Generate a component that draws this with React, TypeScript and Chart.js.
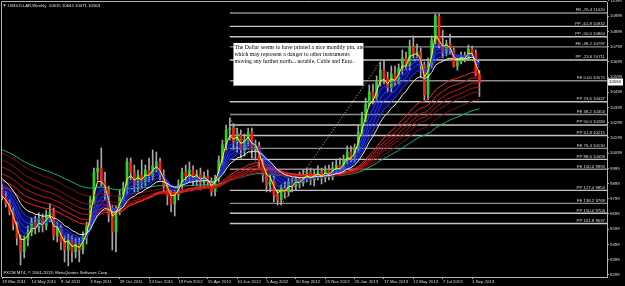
import React, { useEffect, useRef } from 'react';
import { Chart, registerables } from 'chart.js';

Chart.register(...registerables);

// ---- data ----
const dateLabels = ['19 Mar 2011', '14 May 2011', '9 Jul 2011', '3 Sep 2011', '29 Oct 2011', '24 Dec 2011', '19 Feb 2012', '15 Apr 2012', '10 Jun 2012', '5 Aug 2012', '30 Sep 2012', '25 Nov 2012', '20 Jan 2013', '17 Mar 2013', '12 May 2013', '7 Jul 2013', '1 Sep 2013'];
const dateTickBars = [0, 8, 16, 24, 32, 40, 48, 56, 64, 72, 80, 88, 96, 104, 112, 120, 128];
const priceTicks = [9299, 9399, 9499, 9599, 9699, 9799, 9899, 9999, 10099, 10199, 10299, 10399, 10499, 10599, 10699, 10799, 10899, 10999, 11099];

const opens = [9857, 9811, 9765, 9712, 9627, 9542, 9450, 9528, 9581, 9647, 9607, 9673, 9620, 9693, 9712, 9555, 9607, 9515, 9463, 9528, 9450, 9502, 9463, 9555, 9620, 9791, 9975, 10001, 9909, 9857, 9693, 9581, 9725, 9824, 9870, 10041, 9975, 9890, 9955, 9909, 9988, 9949, 10015, 10041, 9955, 9883, 9817, 9765, 9824, 9890, 9975, 9949, 9988, 9923, 9962, 9903, 9949, 9909, 9844, 9936, 10054, 10152, 10251, 10264, 10172, 10218, 10120, 10185, 10238, 10120, 10146, 10041, 9955, 9890, 9923, 9824, 9791, 9870, 9844, 9909, 9883, 9936, 9903, 9949, 9975, 9923, 9962, 9975, 9936, 9988, 9949, 10001, 10021, 9988, 10054, 10106, 10067, 10133, 10238, 10330, 10422, 10501, 10461, 10566, 10645, 10593, 10527, 10619, 10566, 10658, 10724, 10671, 10796, 10757, 10763, 10678, 10481, 10678, 10842, 11000, 10809, 10763, 10816, 10777, 10671, 10698, 10737, 10717, 10783, 10757, 10615];
const highs = [9890, 9844, 9791, 9739, 9647, 9561, 9555, 9620, 9673, 9686, 9706, 9699, 9725, 9765, 9739, 9647, 9627, 9555, 9568, 9555, 9542, 9542, 9581, 9647, 9817, 10001, 10054, 10133, 9975, 9883, 9758, 9758, 9857, 9909, 10067, 10067, 10021, 9988, 10054, 10021, 10067, 10120, 10106, 10067, 9988, 9909, 9857, 9857, 9923, 10001, 10021, 10041, 10015, 9988, 10001, 9975, 9988, 9936, 9955, 10080, 10185, 10284, 10330, 10290, 10264, 10251, 10225, 10264, 10264, 10185, 10172, 10067, 9988, 9955, 9949, 9857, 9890, 9909, 9936, 9936, 9962, 9975, 9988, 10001, 10001, 9988, 10015, 10001, 10015, 10021, 10041, 10054, 10067, 10087, 10146, 10146, 10159, 10284, 10369, 10461, 10547, 10553, 10606, 10698, 10711, 10632, 10671, 10671, 10685, 10777, 10763, 10842, 10869, 10816, 10790, 10698, 10724, 10869, 11013, 11013, 10908, 10842, 10882, 10790, 10724, 10763, 10763, 10809, 10803, 10777, 10642];
const lows = [9791, 9745, 9693, 9594, 9496, 9364, 9410, 9489, 9555, 9568, 9581, 9581, 9594, 9647, 9528, 9515, 9463, 9384, 9358, 9384, 9410, 9384, 9436, 9502, 9594, 9765, 9923, 9883, 9791, 9647, 9463, 9450, 9693, 9791, 9824, 9923, 9844, 9844, 9870, 9883, 9909, 9923, 9975, 9923, 9844, 9758, 9712, 9686, 9791, 9857, 9909, 9909, 9883, 9883, 9857, 9870, 9883, 9817, 9817, 9909, 10021, 10120, 10185, 10120, 10106, 10067, 10080, 10146, 10067, 10054, 10001, 9909, 9844, 9844, 9778, 9758, 9758, 9804, 9817, 9844, 9857, 9870, 9883, 9909, 9890, 9883, 9923, 9896, 9909, 9923, 9923, 9962, 9955, 9962, 10028, 10041, 10041, 10106, 10225, 10304, 10409, 10422, 10435, 10540, 10553, 10501, 10501, 10540, 10553, 10619, 10645, 10645, 10724, 10724, 10593, 10448, 10448, 10658, 10816, 10790, 10724, 10737, 10750, 10665, 10645, 10685, 10698, 10711, 10737, 10606, 10471];
const closes = [9811, 9765, 9712, 9627, 9542, 9450, 9528, 9581, 9647, 9607, 9673, 9620, 9693, 9712, 9555, 9607, 9515, 9463, 9528, 9450, 9502, 9463, 9555, 9620, 9791, 9975, 10001, 9909, 9857, 9693, 9581, 9725, 9824, 9870, 10041, 9975, 9890, 9955, 9909, 9988, 9949, 10015, 10041, 9955, 9883, 9817, 9765, 9824, 9890, 9975, 9949, 9988, 9923, 9962, 9903, 9949, 9909, 9844, 9936, 10054, 10152, 10251, 10264, 10172, 10218, 10120, 10185, 10238, 10120, 10146, 10041, 9955, 9890, 9923, 9824, 9791, 9870, 9844, 9909, 9883, 9936, 9903, 9949, 9975, 9923, 9962, 9975, 9936, 9988, 9949, 10001, 10021, 9988, 10054, 10106, 10067, 10133, 10238, 10330, 10422, 10501, 10461, 10566, 10645, 10593, 10527, 10619, 10566, 10658, 10724, 10671, 10796, 10757, 10763, 10678, 10481, 10678, 10842, 11000, 10809, 10763, 10816, 10777, 10671, 10698, 10737, 10717, 10783, 10757, 10615, 10563];

// moving-average indicator settings (periods) and their values at the first bar
const yellowPeriod = 3;
const yellowSeed = 9817;
const bluePeriods = [5, 7, 9, 12];
const blueSeeds = [9840, 9860, 9880, 9905];
const whitePeriod = 15;
const whiteSeed = 9930;
const redPeriods = [30, 35, 40, 45, 50, 60];
const redSeeds = [9877, 9916, 9962, 10008, 10054, 10100];
const greenPeriod = 75;
const greenSeed = 10120;

const fibNames = ['FE -76.4', 'PP -61.8', 'PP -50.0', 'FE -38.2', 'PP -23.6', 'FE 0.00', 'PP 23.6', 'FE 38.2', 'PP 50.0', 'PP 61.8', 'FE 76.4', 'PP 88.6', 'FE 100.0', 'PP 127.4', 'FE 138.2', 'PP 150.0', 'PP 161.8'];
const fibValues = [11020, 10932, 10864, 10797, 10711, 10575, 10437, 10353, 10284, 10215, 10130, 10058, 9993, 9854, 9769, 9704, 9637];
const fibStartBar = 62;

const zigzagBars = [62, 76, 103];
const zigzagValues = [10330, 9758, 10698];

const headerText = 'USDOLLAR,Weekly  10615 10642 10471 10563';
const footerText = 'FXCM MT4, \u00A9 2001-2013, MetaQuotes Software Corp.';
const noteLines = ['The Dollar seems to have printed a nice monthly pin, and', 'which may represent a danger to other instruments', 'moving any further north... notable, Cable and Euro.'];
const noteBar = 63;
const noteValue = 10823;
const lastPrice = 10563;

const xMin = -0.05;
const xMax = 164.75;
const yMin = 9285;
const yMax = 11092;

const SANS = '"Liberation Sans", Arial, sans-serif';
const SERIF = '"Liberation Serif", "Times New Roman", serif';

function ema(period: number, seed: number) {
  const a = 2 / (period + 1);
  const out: { x: number; y: number }[] = [];
  let v = seed;
  for (let i = 0; i < closes.length; i++) {
    if (i > 0) v = v + a * (closes[i] - v);
    out.push({ x: i, y: v });
  }
  return out;
}

export default function App() {
  const ref = useRef<HTMLCanvasElement | null>(null);

  useEffect(() => {
    document.body.style.margin = '0';
    document.body.style.background = '#000';
    const canvas = ref.current;
    if (!canvas) return;

    const datasets: any[] = [];
    const lineDs = (data: any, color: string, order: number, extra: any = {}) => ({
      type: 'line',
      data,
      borderColor: color,
      borderWidth: 1,
      pointRadius: 0,
      tension: 0,
      fill: false,
      order,
      ...extra,
    });

    // fib lines
    fibValues.forEach((v, k) => {
      const isFE = fibNames[k].startsWith('FE');
      datasets.push(lineDs([{ x: fibStartBar, y: v }, { x: xMax, y: v }], isFE ? '#8e8e8e' : '#c4c4c4', 40, { borderWidth: 1.4 }));
    });
    // zigzag dotted
    datasets.push(lineDs(zigzagBars.map((b, k) => ({ x: b, y: zigzagValues[k] })), '#cfcfcf', 35, { borderDash: [1, 2] }));

    // candles
    datasets.push({
      type: 'bar',
      data: closes.map((_, i) => ({ x: i, y: [lows[i], highs[i]] })),
      backgroundColor: '#a8a8a8',
      barThickness: 1,
      grouped: false,
      order: 30,
    });
    datasets.push({
      type: 'bar',
      data: closes.map((c, i) => ({ x: i, y: [opens[i], c] })),
      backgroundColor: closes.map((c, i) => (c >= opens[i] ? '#2ad42a' : '#ff1c1c')),
      barThickness: 2,
      minBarLength: 1,
      grouped: false,
      order: 29,
    });

    // green
    datasets.push(lineDs(ema(greenPeriod, greenSeed), '#16b07a', 6));
    // reds
    const redColors = ['#ff2424', '#e41c1c', '#c81616', '#b01212', '#9a0f0f', '#840c0c'];
    redPeriods.forEach((p, k) => datasets.push(lineDs(ema(p, redSeeds[k]), redColors[k], 5)));
    // yellow
    const yellowIdx = datasets.length;
    datasets.push(lineDs(ema(yellowPeriod, yellowSeed), '#ffff00', 1));
    // blues
    bluePeriods.forEach((p, k) => {
      const last = k === bluePeriods.length - 1;
      datasets.push(
        lineDs(ema(p, blueSeeds[k]), '#1f3cf0', 3, last ? { fill: { target: yellowIdx }, backgroundColor: 'rgba(8,10,110,0.95)' } : {})
      );
    });
    // white
    datasets.push(lineDs(ema(whitePeriod, whiteSeed), '#e8e8e8', 2));

    const decor = {
      id: 'decor',
      beforeDraw(chart: any) {
        const c = chart.ctx;
        c.save();
        c.fillStyle = '#000';
        c.fillRect(0, 0, chart.width, chart.height);
        c.restore();
      },
      afterDatasetsDraw(chart: any) {
        const c = chart.ctx;
        const xs = chart.scales.x;
        const ys = chart.scales.y;
        const area = chart.chartArea;
        c.save();
        // fib labels
        c.font = `4.3px ${SANS}`;
        c.fillStyle = '#dcdcdc';
        c.textAlign = 'right';
        c.textBaseline = 'alphabetic';
        fibValues.forEach((v, k) => {
          const y = ys.getPixelForValue(v);
          c.fillText(`${fibNames[k]} ${v}`, area.right - 2, y - 1.6);
        });
        // note box
        const bx = xs.getPixelForValue(noteBar);
        const by = ys.getPixelForValue(noteValue);
        c.fillStyle = '#ffffff';
        c.fillRect(bx, by, 130, 43);
        c.fillStyle = '#9a9a9a';
        c.fillRect(bx, by + 42, 130, 1);
        c.fillStyle = '#000';
        c.textAlign = 'left';
        c.textBaseline = 'middle';
        c.font = `5.7px ${SERIF}`;
        noteLines.forEach((t, k) => c.fillText(t, bx + 1, by + 4.7 + k * 7));
        c.restore();
      },
      afterDraw(chart: any) {
        const c = chart.ctx;
        const area = chart.chartArea;
        const ys = chart.scales.y;
        c.save();
        c.strokeStyle = '#b4b4b4';
        c.lineWidth = 1;
        c.beginPath();
        c.moveTo(area.left - 0.5, area.bottom);
        c.lineTo(area.left - 0.5, area.top - 0.5);
        c.lineTo(area.right, area.top - 0.5);
        c.stroke();
        // header
        c.fillStyle = '#e0e0e0';
        c.beginPath();
        c.moveTo(3, 4.5);
        c.lineTo(6, 4.5);
        c.lineTo(4.5, 6.5);
        c.closePath();
        c.fill();
        c.font = `4.3px ${SANS}`;
        c.textAlign = 'left';
        c.textBaseline = 'middle';
        c.fillText(headerText, 8, 5.5);
        c.fillText(footerText, 3.5, 272.5);
        // last price box
        const py = ys.getPixelForValue(lastPrice);
        c.fillStyle = '#ffffff';
        c.fillRect(area.right + 1, py - 4, 15, 7);
        c.fillStyle = '#000';
        c.fillText(String(lastPrice), area.right + 2, py - 0.5);
        c.restore();
      },
    };

    const axisFont = { family: SANS, size: 4.3 };
    const chart = new Chart(canvas, {
      type: 'bar',
      data: { datasets },
      options: {
        animation: false,
        responsive: false,
        maintainAspectRatio: false,
        events: [],
        layout: { padding: { left: 2, top: 2, right: 0, bottom: 0 } },
        plugins: {
          legend: { display: false },
          tooltip: { enabled: false },
          filler: { propagate: false, drawTime: 'beforeDatasetsDraw' },
        } as any,
        scales: {
          x: {
            type: 'linear',
            min: xMin,
            max: xMax,
            offset: false,
            grid: { display: true, drawOnChartArea: false, drawTicks: true, tickLength: 2, color: '#a0a0a0', offset: false },
            border: { display: true, color: '#b4b4b4', width: 1 },
            ticks: {
              color: '#dcdcdc',
              font: axisFont,
              padding: 0,
              align: 'start',
              maxRotation: 0,
              autoSkip: false,
              callback: (v: any) => {
                const k = dateTickBars.indexOf(Number(v));
                return k >= 0 ? dateLabels[k] : '';
              },
            },
            afterBuildTicks: (s: any) => {
              s.ticks = dateTickBars.map((v) => ({ value: v }));
            },
            afterFit: (s: any) => {
              s.height = 9;
              s.paddingLeft = 0;
              s.paddingRight = 0;
            },
          } as any,
          y: {
            type: 'linear',
            position: 'right',
            min: yMin,
            max: yMax,
            grid: { display: true, drawOnChartArea: false, drawTicks: true, tickLength: 2, color: '#a0a0a0' },
            border: { display: true, color: '#b4b4b4', width: 1 },
            ticks: { color: '#dcdcdc', font: axisFont, padding: 1, callback: (v: any) => String(v) },
            afterBuildTicks: (s: any) => {
              s.ticks = priceTicks.map((v) => ({ value: v }));
            },
            afterFit: (s: any) => {
              s.width = 18;
              s.paddingTop = 0;
              s.paddingBottom = 0;
            },
          } as any,
        },
      },
      plugins: [decor],
    } as any);

    return () => chart.destroy();
  }, []);

  return (
    <div style={{ width: 625, height: 286, background: '#000' }}>
      <canvas ref={ref} width={625} height={286} style={{ display: 'block', width: 625, height: 286 }} />
    </div>
  );
}
